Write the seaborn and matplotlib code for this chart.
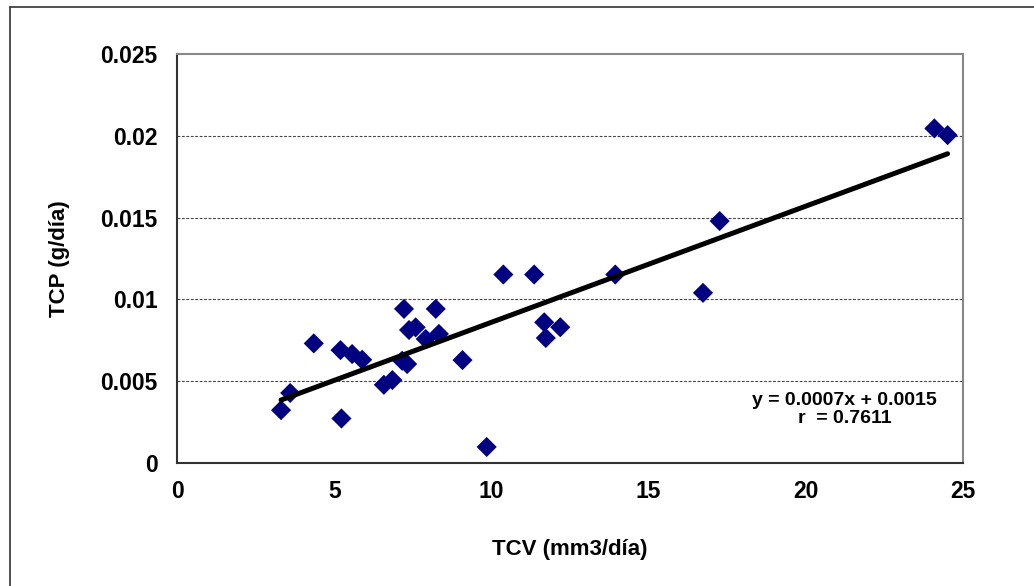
import matplotlib
matplotlib.use("Agg")
import matplotlib.pyplot as plt
import matplotlib.ticker as mticker
from matplotlib.lines import Line2D
import numpy as np
import pandas as pd
import seaborn as sns

# ---- data ----
tcv = [3.31, 3.60, 4.35, 5.20, 5.23, 5.57, 5.89, 6.58, 6.85, 7.16,
       7.22, 7.32, 7.38, 7.59, 7.91, 8.23, 8.33, 9.08, 9.85, 10.38,
       11.36, 11.68, 11.73, 12.19, 13.94, 16.73, 17.26, 24.09, 24.51]
tcp = [0.00323, 0.00428, 0.00731, 0.00690, 0.00272, 0.00666, 0.00631, 0.00478, 0.00507, 0.00625,
       0.00942, 0.00605, 0.00813, 0.00829, 0.00758, 0.00942, 0.00789, 0.00629, 0.00098, 0.01152,
       0.01152, 0.00860, 0.00764, 0.00830, 0.01152, 0.01040, 0.01479, 0.02045, 0.02004]
fit_slope = 0.00071
fit_intercept = 0.0015
x_ticks = [0, 5, 10, 15, 20, 25]
y_ticks = [0, 0.005, 0.01, 0.015, 0.02, 0.025]
x_label = "TCV (mm3/día)"
y_label = "TCP (g/día)"
eq_text = "y = 0.0007x + 0.0015\nr  = 0.7611"

df = pd.DataFrame({"TCV": tcv, "TCP": tcp})
xfit = np.array([min(tcv), max(tcv)])
fit_df = pd.DataFrame({"x": xfit, "y": fit_slope * xfit + fit_intercept})

sns.set_theme(style="white")
plt.rcParams["font.family"] = ["Liberation Sans", "DejaVu Sans"]
plt.rcParams["font.weight"] = "bold"

fig = plt.figure(figsize=(10.34, 5.86), dpi=100)
fig.patch.set_facecolor("white")
ax = fig.add_axes([177 / 1034, 1 - 463 / 586, (963 - 177) / 1034, (463 - 54) / 586])

# gridlines
for yv in y_ticks[1:-1]:
    ax.axhline(yv, color="#444444", lw=0.8, ls=(0, (2.5, 1.5)), zorder=0)

sns.scatterplot(data=df, x="TCV", y="TCP", marker="D", s=105, color="#000080",
                edgecolor="none", ax=ax, zorder=3, legend=False)
sns.lineplot(data=fit_df, x="x", y="y", color="black", lw=3.6, ax=ax, zorder=4,
             legend=False)

ax.set_xlim(0, 25)
ax.set_ylim(0, 0.025)
ax.set_xticks(x_ticks)
ax.set_yticks(y_ticks)
ax.yaxis.set_major_formatter(mticker.FuncFormatter(lambda v, p: "0" if v == 0 else f"{v:g}"))
ax.xaxis.set_major_formatter(mticker.FuncFormatter(lambda v, p: f"{v:g}"))

ax.tick_params(axis="both", which="major", direction="out", length=5, width=1.2,
               color="#333333", labelsize=16.5, labelcolor="black")
ax.tick_params(axis="y", pad=9)
ax.tick_params(axis="x", pad=7)
for lab in ax.get_xticklabels() + ax.get_yticklabels():
    lab.set_fontweight("bold")

for side in ["left", "bottom"]:
    ax.spines[side].set_color("#333333")
    ax.spines[side].set_linewidth(1.5)
for side in ["top", "right"]:
    ax.spines[side].set_color("#888888")
    ax.spines[side].set_linewidth(1.5)

ax.set_xlabel(x_label, fontsize=16, fontweight="bold", color="black", labelpad=26)
ax.set_ylabel(y_label, fontsize=16, fontweight="bold", color="black", labelpad=22)

ax.text(21.24, 0.00325, eq_text, ha="center", va="center", fontsize=14,
        fontweight="bold", color="black", linespacing=1.1, zorder=5)

# outer frame (left and top edges visible)
fig.add_artist(Line2D([10 / 1034, 10 / 1034], [0, 1 - 7 / 586], color="#333333",
                      lw=1.2, transform=fig.transFigure))
fig.add_artist(Line2D([10 / 1034, 1], [1 - 7 / 586, 1 - 7 / 586], color="#333333",
                      lw=1.2, transform=fig.transFigure))

fig.savefig("out.png", dpi=100, facecolor="white")
